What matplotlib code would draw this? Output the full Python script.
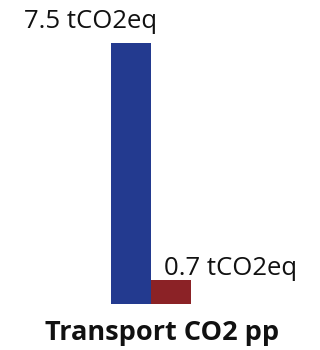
import matplotlib
matplotlib.use("Agg")
import matplotlib.pyplot as plt

categories = ["Blue", "Red"]
values = [7.5, 0.7]
labels = ["7.5 tCO2eq", "0.7 tCO2eq"]
colors = ["#233a8f", "#8b2226"]
title = "Transport CO2 pp"

plt.rcParams['font.family'] = ['Open Sans', 'DejaVu Sans']

fig = plt.figure(figsize=(3.2, 3.5), dpi=100)
ax = fig.add_axes([0, 0, 1, 1])
xs = [0, 1]
ax.bar(xs, values, width=1.0, align='edge', color=colors, linewidth=0)
ax.set_xlim(-111/40, (320-111)/40)
ppu = 261/7.5
ax.set_ylim(-46/ppu, 304/ppu)
ax.axis('off')

ax.annotate(labels[0], (xs[0] + 0.5, values[0]), xytext=(-40, 15), textcoords='offset pixels',
            ha='center', va='baseline', fontsize=18.5, color='#111111')
ax.annotate(labels[1], (xs[1], values[1]), xytext=(13, 5), textcoords='offset pixels',
            ha='left', va='baseline', fontsize=18.5, color='#111111')
fig.text(162/320, 1 - 340/350, title, ha='center', va='baseline', fontsize=19.5, fontweight='bold', color='#111111')

fig.savefig("out.png", dpi=100)
